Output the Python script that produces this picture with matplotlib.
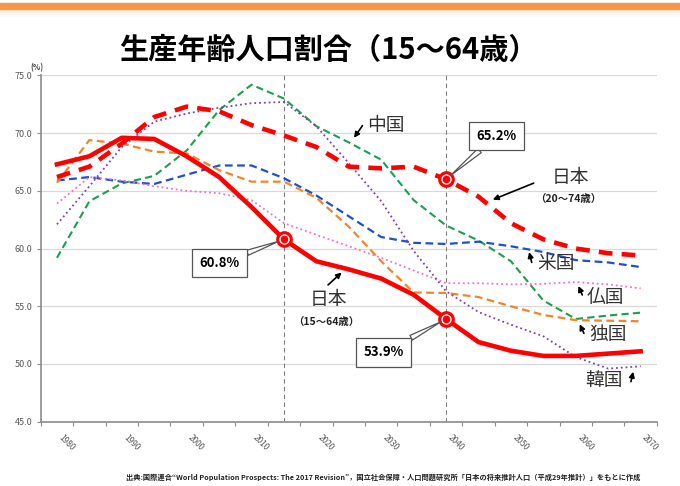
import matplotlib
matplotlib.use('Agg')
import matplotlib.pyplot as plt
import numpy as np
from matplotlib.patches import Rectangle

plt.rcParams['font.family'] = ['Noto Sans CJK JP', 'DejaVu Sans']

# data (5-year steps)
years = list(range(1980, 2071, 5))
japan_15_64 = [67.3, 68.0, 69.6, 69.5, 68.0, 66.2, 63.6, 60.8, 58.9, 58.2, 57.4, 56.0,
               53.9, 51.9, 51.15, 50.7, 50.7, 50.9, 51.1]
japan_20_74 = [66.2, 67.1, 69.1, 71.4, 72.3, 71.9, 70.7, 69.8, 68.8, 67.1, 66.95, 67.1,
               66.0, 64.5, 62.2, 60.8, 60.0, 59.6, 59.4]
china = [59.2, 64.1, 65.65, 66.3, 68.5, 72.0, 74.2, 73.0, 70.6, 69.2, 67.7, 64.2,
         62.0, 60.7, 58.9, 55.5, 53.9, 54.2, 54.45]
usa = [65.9, 66.2, 65.8, 65.6, 66.4, 67.2, 67.2, 66.1, 64.6, 62.8, 61.0, 60.5,
       60.4, 60.6, 60.2, 59.7, 59.0, 58.8, 58.4]
germany = [65.7, 69.4, 69.1, 68.4, 68.25, 66.8, 65.8, 65.8, 64.4, 61.9, 58.9, 56.2,
           56.15, 55.8, 55.0, 54.25, 53.8, 53.75, 53.7]
france = [63.9, 66.2, 65.9, 65.4, 65.0, 64.8, 64.2, 62.2, 61.2, 60.2, 59.2, 58.1,
          57.0, 57.0, 56.9, 56.95, 57.1, 56.9, 56.55]
korea = [62.1, 65.4, 68.8, 71.0, 71.7, 72.2, 72.6, 72.7, 70.6, 67.4, 64.1, 59.8,
         56.3, 54.5, 53.4, 52.4, 50.6, 49.6, 49.8]

label_years = list(range(1980, 2071, 10))
y_ticks = [45.0, 50.0, 55.0, 60.0, 65.0, 70.0, 75.0]
marked_years = [2015, 2040]

title = '生産年齢人口割合（15～64歳）'
source = ('出典:国際連合“World Population Prospects: The 2017 Revision”，'
          '国立社会保障・人口問題研究所「日本の将来推計人口（平成29年推計）」をもとに作成')

fig = plt.figure(figsize=(6.8, 4.86), dpi=100)
ax = fig.add_axes([0.0599, 0.1323, 0.9061, 0.7124])

# orange band on top of the slide
fig.patches.append(Rectangle((0, 0.981), 1, 0.0135, transform=fig.transFigure,
                             color='#F79646', zorder=0))
for i, a in enumerate([0.25, 0.15, 0.08, 0.04]):
    fig.patches.append(Rectangle((0, 0.981 - 0.004 * (i + 1)), 1, 0.004,
                                 transform=fig.transFigure, color='#F7B27A',
                                 alpha=a, lw=0, zorder=0))

fig.text(328 / 680, 1 - 50 / 486, title, ha='center', va='center',
         fontsize=21, weight='bold', color='black')
fig.text(37 / 680, 1 - 68 / 486, '(%)', ha='center', va='center',
         fontsize=5.5, weight='bold', color='#404040')
fig.text(383 / 680, 1 - 477 / 486, source, ha='center', va='center',
         fontsize=5.2, weight='bold', color='#222222')

# series
ax.plot(years, china, color='#1E9E4F', lw=1.5, dashes=(3.5, 2), zorder=3)
ax.plot(years, usa, color='#2050C8', lw=1.6, dashes=(3.5, 2), zorder=3)
ax.plot(years, germany, color='#F0862A', lw=1.6, dashes=(3.5, 2), zorder=3)
ax.plot(years, france, color='#F070D0', lw=1.3, ls=':', zorder=3)
ax.plot(years, korea, color='#8040B0', lw=1.3, ls=':', zorder=3)
ax.plot(years, japan_20_74, color='#FF0000', lw=3.3, dashes=(3, 2), zorder=5)
ax.plot(years, japan_15_64, color='#FF0000', lw=3.3, zorder=5)

for yr in marked_years:
    ax.axvline(yr, color='#808080', lw=0.8, ls=(0, (4, 3)), zorder=2)

# highlighted points
i15 = years.index(2015)
i40 = years.index(2040)
marks = [(2015, japan_15_64[i15]), (2040, japan_15_64[i40]), (2040, japan_20_74[i40])]
for yr, val in marks:
    ax.plot(yr, val, 'o', ms=11, mfc='#FF0000', mec='#FF0000', zorder=7)
    ax.plot(yr, val, 'o', ms=6.5, mfc='#FF0000', mec='white', mew=1.0, zorder=8)

callout_box = dict(boxstyle='square,pad=0.55', fc='white', ec='#555555', lw=0.9)
callout_arrow = dict(arrowstyle='wedge,tail_width=0.4', fc='white', ec='#555555',
                     lw=0.9, shrinkA=0, shrinkB=4)
ax.annotate('60.8%', xy=(2015, japan_15_64[i15]), xytext=(2005.1, 58.75),
            ha='center', va='center', fontsize=9.5, weight='bold',
            bbox=callout_box, arrowprops=callout_arrow, zorder=9)
ax.annotate('53.9%', xy=(2040, japan_15_64[i40]), xytext=(2030.4, 51.0),
            ha='center', va='center', fontsize=9.5, weight='bold',
            bbox=callout_box, arrowprops=callout_arrow, zorder=9)
ax.annotate('65.2%', xy=(2040, japan_20_74[i40]), xytext=(2047.8, 69.76),
            ha='center', va='center', fontsize=9.5, weight='bold',
            bbox=callout_box, arrowprops=callout_arrow, zorder=9)

# series labels with small arrows
arrow_kw = dict(arrowstyle='-|>', color='black', lw=1.2, mutation_scale=8,
                shrinkA=0, shrinkB=0)
labels = [
    ('中国', (2030.65, 70.65), (2027.1, 70.65), (2025.8, 69.6)),
    ('日本', (2059.1, 66.2), (2053.5, 65.67), (2047.2, 64.24)),
    ('日本', (2021.8, 55.55), (2021.8, 56.85), (2023.9, 57.93)),
    ('米国', (2056.9, 58.75), (2053.2, 58.8), (2052.8, 59.7)),
    ('仏国', (2064.5, 55.8), (2061.0, 55.98), (2060.4, 56.76)),
    ('独国', (2065.0, 52.6), (2061.25, 52.66), (2060.6, 53.44)),
    ('韓国', (2064.4, 48.6), (2068.5, 48.47), (2068.85, 49.33)),
]
for txt, pos, tail, head in labels:
    ax.text(pos[0], pos[1], txt, ha='center', va='center', fontsize=13.5,
            color='#333333', zorder=9)
    ax.annotate('', xy=head, xytext=tail, arrowprops=arrow_kw, zorder=9)

ax.text(2058.8, 64.3, '（20～74歳）', ha='center', va='center', fontsize=7.5,
        weight='bold', color='#222222', zorder=9)
ax.text(2021.5, 53.64, '（15～64歳）', ha='center', va='center', fontsize=7.5,
        weight='bold', color='#222222', zorder=9)

# axes styling
ax.set_xlim(1977.5, 2072.5)
ax.set_ylim(45, 75)
ax.set_yticks(y_ticks)
ax.set_yticklabels(['{:.1f}'.format(v) for v in y_ticks], fontsize=6.5, color='#595959')
ax.set_xticks(np.arange(1977.5, 2073, 5))
ax.set_xticklabels([])
ax.set_xticks(label_years, minor=True)
ax.set_xticklabels([str(y) for y in label_years], minor=True, rotation=-45,
                   ha='left', va='top', fontsize=6, color='#595959')
ax.tick_params(axis='x', which='minor', length=0, pad=8)
ax.tick_params(axis='x', which='major', length=3, color='#8C8C8C')
ax.tick_params(axis='y', length=3, color='#8C8C8C', pad=3)
ax.yaxis.grid(True, color='#D9D9D9', lw=0.9)
ax.set_axisbelow(True)
for s in ['top', 'right']:
    ax.spines[s].set_visible(False)
for s in ['left', 'bottom']:
    ax.spines[s].set_color('#8C8C8C')
    ax.spines[s].set_linewidth(1.2)

fig.savefig('out.png', dpi=100)
